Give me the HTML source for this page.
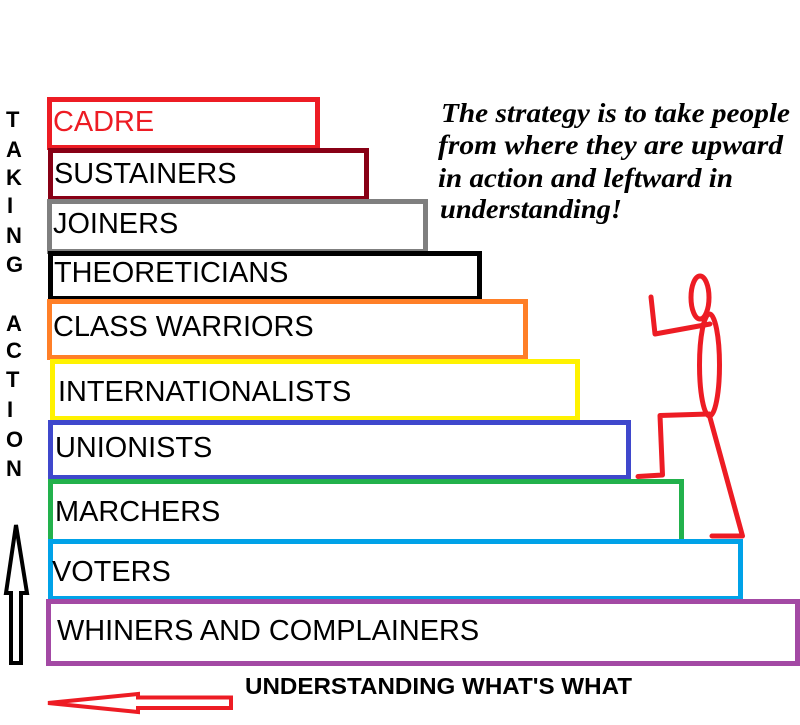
<!DOCTYPE html>
<html>
<head>
<meta charset="utf-8">
<style>
html,body{margin:0;padding:0;background:#fff;}
svg{display:block;}
</style>
</head>
<body>
<svg width="800" height="725" viewBox="0 0 800 725" xmlns="http://www.w3.org/2000/svg">
<rect x="0" y="0" width="800" height="725" fill="#fff"/>
<g fill="none" stroke-width="5">
  <rect x="49.5" y="99.5" width="268" height="48" stroke="#ed1c24"/>
  <rect x="50.5" y="150.5" width="316" height="48" stroke="#880015"/>
  <rect x="49.5" y="201.5" width="376" height="50" stroke="#7f7f7f"/>
  <rect x="50.5" y="253.5" width="429" height="45" stroke="#000"/>
  <rect x="49.5" y="301.5" width="476" height="56" stroke="#ff7f27"/>
  <rect x="52.5" y="361.5" width="525" height="57" stroke="#fff200"/>
  <rect x="50.5" y="422.5" width="578" height="55" stroke="#3f48cc"/>
  <rect x="50.5" y="481.5" width="631" height="60" stroke="#22b14c"/>
  <rect x="50.5" y="541.5" width="690" height="57" stroke="#00a2e8"/>
  <rect x="48.5" y="601.5" width="749" height="62" stroke="#a349a4"/>
</g>
<g font-family="'Liberation Sans', Arial, sans-serif" font-size="28.9" fill="#000">
  <text x="53" y="131" fill="#ed1c24">CADRE</text>
  <text x="54" y="183">SUSTAINERS</text>
  <text x="53" y="233">JOINERS</text>
  <text x="54" y="282">THEORETICIANS</text>
  <text x="53" y="336">CLASS WARRIORS</text>
  <text x="58" y="401">INTERNATIONALISTS</text>
  <text x="55" y="457">UNIONISTS</text>
  <text x="55" y="521">MARCHERS</text>
  <text x="52" y="581">VOTERS</text>
  <text x="57" y="640">WHINERS AND COMPLAINERS</text>
</g>
<g font-family="'Liberation Sans', Arial, sans-serif" font-size="22" font-weight="bold" fill="#000">
  <text x="6" y="127">T</text>
  <text x="6" y="157">A</text>
  <text x="6" y="185">K</text>
  <text x="7" y="213">I</text>
  <text x="6" y="243">N</text>
  <text x="6" y="272">G</text>
  <text x="6" y="331">A</text>
  <text x="6" y="358">C</text>
  <text x="6" y="387">T</text>
  <text x="7" y="417">I</text>
  <text x="6" y="447">O</text>
  <text x="6" y="476">N</text>
  <text x="245" y="694" font-size="23.5" textLength="387" lengthAdjust="spacingAndGlyphs">UNDERSTANDING WHAT'S WHAT</text>
</g>
<g font-family="'Liberation Serif', 'Times New Roman', serif" font-size="27" font-style="italic" font-weight="bold" fill="#000">
  <text x="441" y="122" textLength="349" lengthAdjust="spacingAndGlyphs">The strategy is to take people</text>
  <text x="438" y="154" textLength="345" lengthAdjust="spacingAndGlyphs">from where they are upward</text>
  <text x="438" y="187" textLength="295" lengthAdjust="spacingAndGlyphs">in action and leftward in</text>
  <text x="440" y="218" textLength="182" lengthAdjust="spacingAndGlyphs">understanding!</text>
</g>
<!-- up arrow -->
<polygon points="16,525 27,593 21,593 21,663 11,663 11,593 6,593" fill="none" stroke="#000" stroke-width="4" stroke-linejoin="miter"/>
<!-- left arrow -->
<polygon points="48,703 138,694 138,697.5 231,697.5 231,708 138,708 138,712" fill="none" stroke="#ed1c24" stroke-width="4" stroke-linejoin="miter"/>
<!-- stick figure -->
<g fill="none" stroke="#ed1c24" stroke-width="5" stroke-linecap="round" stroke-linejoin="round">
  <ellipse cx="700" cy="297.5" rx="9" ry="21.5"/>
  <ellipse cx="709.5" cy="365" rx="10" ry="51"/>
  <polyline points="651,297 655,334 710,324"/>
  <polyline points="709,414 660,415.5 662.5,475 638,476.5"/>
  <polyline points="709,414 742.5,536 712,536"/>
</g>
</svg>
</body>
</html>
